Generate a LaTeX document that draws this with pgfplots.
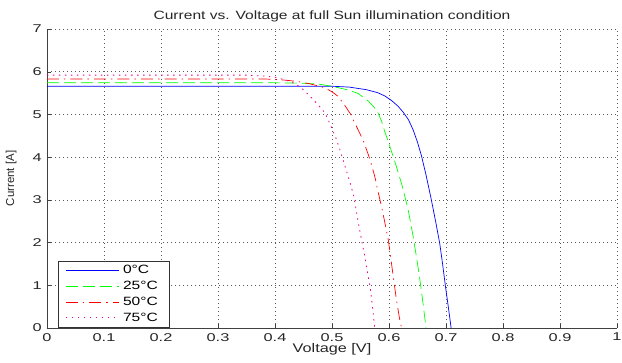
\documentclass[border=0pt]{standalone}
\usepackage{fontspec}
\setmainfont{Liberation Sans}[FakeStretch=1.3]
\newfontfamily\tickfont{Liberation Sans}[FakeStretch=1.45]
\newfontfamily\plainfont{Liberation Sans}[FakeStretch=1.0]
\usepackage{pgfplots}
\pgfplotsset{compat=1.18}
\begin{document}
\fontsize{12}{14}\selectfont
\begin{tikzpicture}
\begin{axis}[
  scale only axis,
  width=570pt, height=299pt,
  xmin=0, xmax=1, ymin=0, ymax=7,
  xtick={0,0.1,...,1.01},
  ytick={0,1,...,7},
  xticklabels={0,0.1,0.2,0.3,0.4,0.5,0.6,0.7,0.8,0.9,1},
  /pgf/number format/assume math mode=true,
  axis x line*=bottom, axis y line*=left,
  axis line style={black!75, line width=0.8pt},
  tick align=inside,
  major tick length=4pt,
  tick style={black!75},
  grid=major,
  major grid style={black!65, dash pattern=on 0.8pt off 3.2pt, line width=0.6pt},
  title={Current vs. Voltage at full Sun illumination condition},
  title style={at={(axis description cs:0.5,1.0234)}, anchor=base, yshift=-4pt, font=\fontsize{12}{14}\selectfont, text=black!85},
  xlabel={Voltage [V]},
  ylabel={Current [A]},
  xlabel style={at={(axis description cs:0.5,-0.082)}, anchor=base, font=\fontsize{12.5}{14}\selectfont, text=black!85},
  ylabel style={at={(axis description cs:-0.063,0.5)}, anchor=center, font=\plainfont\fontsize{11.5}{13}\selectfont, text=black!85},
  ticklabel style={font=\tickfont\fontsize{11.3}{13}\selectfont, text=black!85},
  yticklabel style={xshift=-1pt},
  xticklabel style={yshift=-1pt},
  legend style={at={(0.0193,0.0033)}, anchor=south west, draw=black!80, fill=white,
    font=\fontsize{12}{14}\selectfont, row sep=1.5pt, inner xsep=7pt, inner ysep=2pt,
    nodes={inner xsep=4pt}},
  legend cell align=left,
  legend image code/.code={\draw[#1] plot coordinates {(0pt,0pt) (27pt,0pt) (53pt,0pt)};},
]
\addplot[color=blue, solid, line width=0.7pt] coordinates {
(0,5.66) (0.45,5.66) (0.50,5.66) (0.53,5.64) (0.56,5.58) (0.58,5.51) (0.593,5.43)
(0.605,5.32) (0.616,5.19) (0.625,5.05) (0.634,4.88) (0.642,4.65) (0.650,4.35)
(0.657,4.03) (0.665,3.58) (0.674,3.02) (0.682,2.48) (0.689,1.98) (0.694,1.50)
(0.699,0.98) (0.704,0.50) (0.709,0)
};
\addlegendentry{0°C}
\addplot[color=green, dash pattern=on 12pt off 5pt, line width=0.7pt] coordinates {
(0,5.74) (0.40,5.74) (0.45,5.73) (0.476,5.71) (0.50,5.66) (0.529,5.57) (0.546,5.49)
(0.564,5.31) (0.573,5.18) (0.581,5.03) (0.587,4.84) (0.593,4.58) (0.599,4.35)
(0.604,4.15) (0.613,3.78) (0.622,3.38) (0.628,3.07) (0.634,2.74) (0.642,2.17)
(0.648,1.68) (0.654,1.15) (0.659,0.65) (0.665,0)
};
\addlegendentry{25°C}
\addplot[color=red, dash pattern=on 12pt off 5pt on 1.5pt off 5pt, line width=0.7pt] coordinates {
(0,5.83) (0.38,5.83) (0.40,5.82) (0.42,5.80) (0.44,5.77) (0.46,5.72) (0.475,5.67)
(0.488,5.62) (0.50,5.53) (0.511,5.42) (0.523,5.20) (0.532,5.02) (0.540,4.80)
(0.548,4.58) (0.555,4.38) (0.561,4.16) (0.567,3.93) (0.575,3.55) (0.581,3.18)
(0.587,2.84) (0.593,2.45) (0.599,2.04) (0.604,1.55) (0.609,1.05) (0.614,0.58)
(0.618,0.26) (0.622,0)
};
\addlegendentry{50°C}
\addplot[color=magenta, dash pattern=on 1.5pt off 4.5pt, line width=0.8pt] coordinates {
(0,5.92) (0.35,5.92) (0.38,5.90) (0.40,5.87) (0.42,5.80) (0.435,5.72) (0.447,5.61)
(0.462,5.42) (0.476,5.22) (0.488,5.03) (0.497,4.76) (0.506,4.48) (0.514,4.17)
(0.523,3.78) (0.532,3.39) (0.538,3.10) (0.546,2.48) (0.552,2.05) (0.558,1.65)
(0.563,1.25) (0.567,0.95) (0.571,0.50) (0.575,0)
};
\addlegendentry{75°C}
\end{axis}
\pgfresetboundingbox
\useasboundingbox (current axis.south west) ++(-47pt,-35pt) rectangle ++(622pt,363pt);
\end{tikzpicture}
\end{document}
